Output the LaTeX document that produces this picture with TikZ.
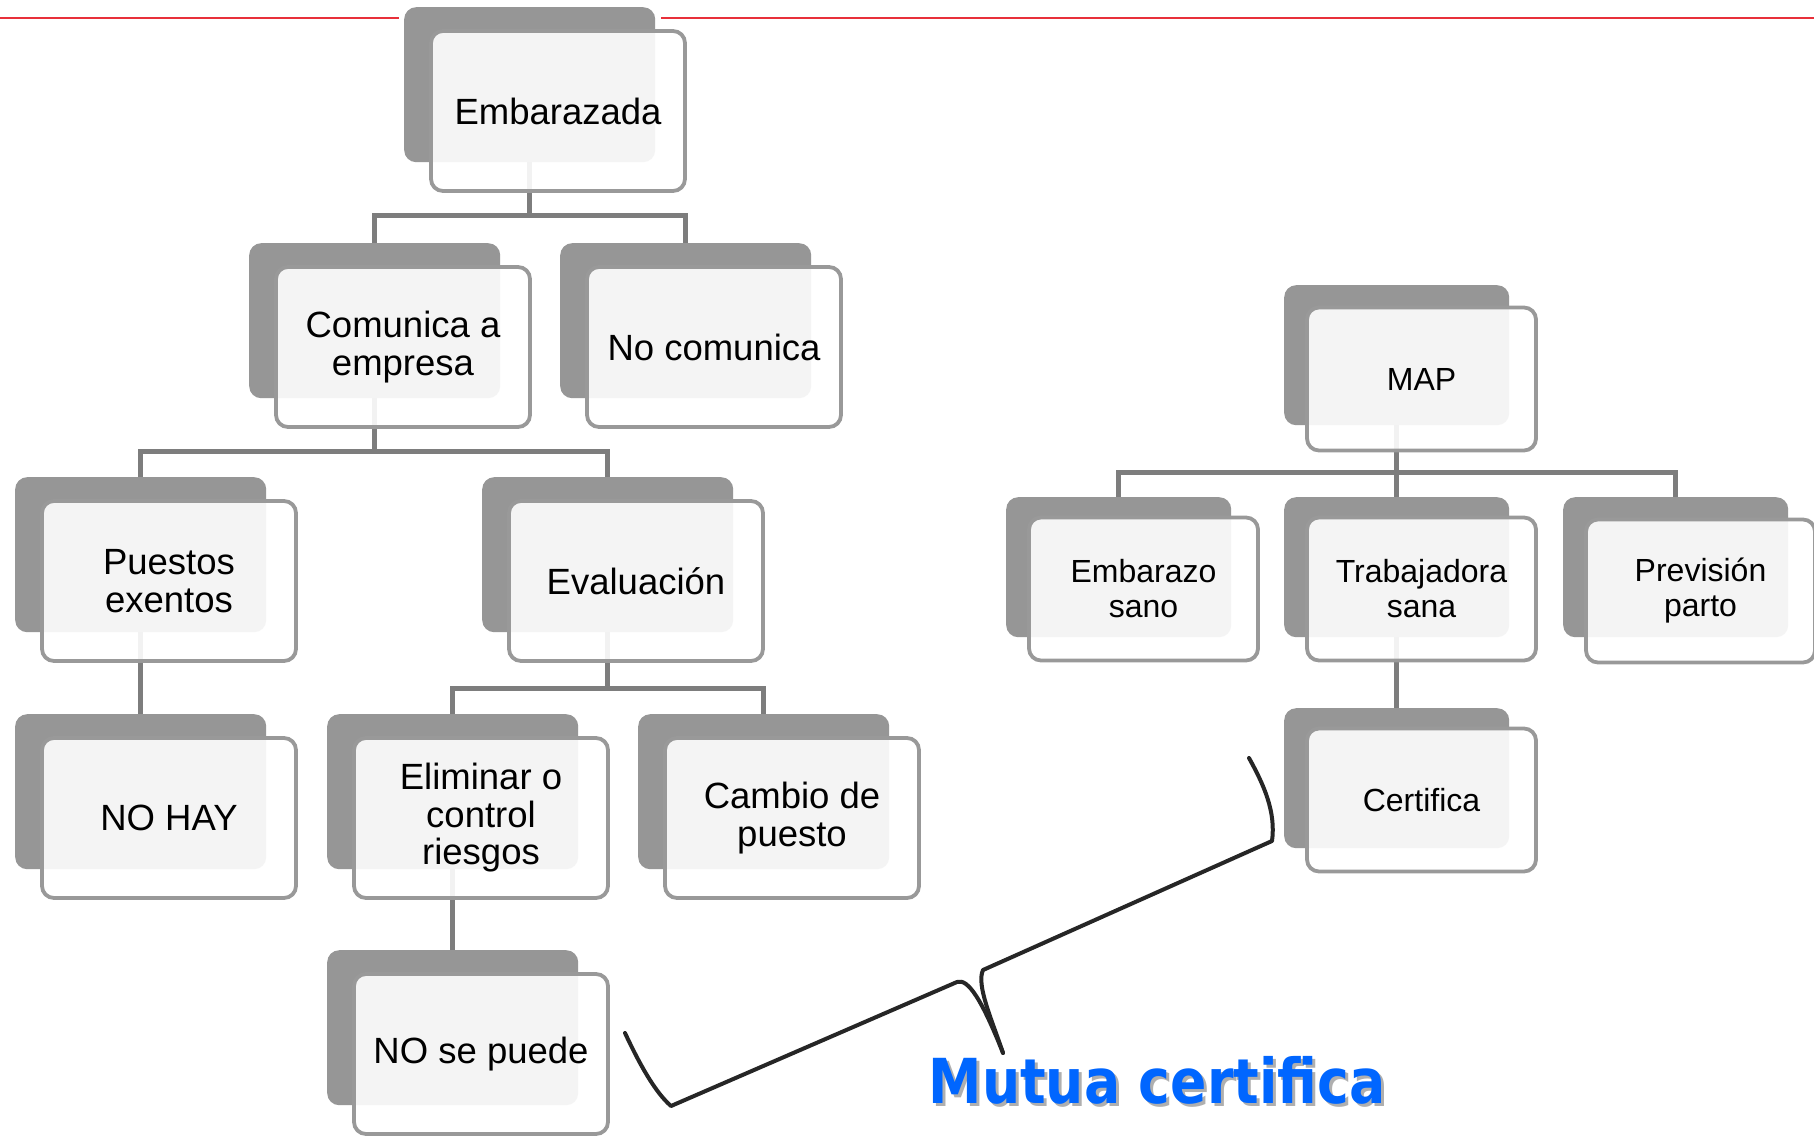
\documentclass[tikz,border=0pt]{standalone}
\usepackage{graphicx}
\usepackage{fontspec}
\setmainfont{Liberation Sans}
\newfontfamily\mutuafont{DejaVu Sans}
\definecolor{backgray}{RGB}{150,150,150}
\definecolor{edgegray}{RGB}{153,153,153}
\definecolor{conngray}{RGB}{125,125,125}
\definecolor{redline}{RGB}{232,48,58}
\definecolor{mutuablue}{RGB}{0,102,255}
\definecolor{shadowgray}{RGB}{175,175,175}
\begin{document}
\begin{tikzpicture}[x=1pt,y=-1pt,
  backL/.style={rectangle,rounded corners=12pt,fill=backgray,minimum width=251pt,minimum height=155pt,inner sep=0pt,anchor=north west},
  backR/.style={rectangle,rounded corners=12pt,fill=backgray,minimum width=225pt,minimum height=140pt,inner sep=0pt,anchor=north west},
  frontbox/.style={rectangle,rounded corners=12pt,draw=edgegray,line width=3.8pt,fill=white,fill opacity=0.9,draw opacity=1,text opacity=1,inner sep=0pt,align=center,text=black},
  frontL/.style={frontbox,minimum width=254pt,minimum height=160pt,font={\fontsize{36.5}{37.5}\selectfont}},
  frontR/.style={frontbox,minimum width=229pt,minimum height=143pt,font={\fontsize{32}{35}\selectfont}},
  conn/.style={draw=conngray,line width=4.5pt},
  bracestroke/.style={draw=black!85,line width=4pt,line cap=round,line join=round},
  redrule/.style={draw=redline,line width=2.5pt}]
\useasboundingbox (0,0) rectangle (1814,1139);
\fill[white] (0,0) rectangle (1814,1139);

% red rule at top
\coordinate (rl0) at (0,18);
\coordinate (rl1) at (399,18);
\coordinate (rr0) at (661,18);
\coordinate (rr1) at (1814,18);
\draw[redrule] (rl0) -- (rl1);
\draw[redrule] (rr0) -- (rr1);

% back boxes
\node[backL] (embB)    at (404,7)   {};
\node[backL] (comB)    at (249,243) {};
\node[backL] (nocomB)  at (560,243) {};
\node[backL] (puesB)   at (15,477)  {};
\node[backL] (evalB)   at (482,477) {};
\node[backL] (nohayB)  at (15,714)  {};
\node[backL] (elimB)   at (327,714) {};
\node[backL] (cambB)   at (638,714) {};
\node[backL] (noseB)   at (327,950) {};
\node[backR] (mapB)    at (1284,285) {};
\node[backR] (embzB)   at (1006,497) {};
\node[backR] (trabB)   at (1284,497) {};
\node[backR] (prevB)   at (1563,497) {};
\node[backR] (certB)   at (1284,708) {};

% connectors
\draw[conn] (embB.south) -- ++(0,53) -| (comB.north);
\draw[conn] (embB.south) -- ++(0,53) -| (nocomB.north);
\draw[conn] (comB.south) -- ++(0,53) -| (puesB.north);
\draw[conn] (comB.south) -- ++(0,53) -| (evalB.north);
\draw[conn] (puesB.south) -- (nohayB.north);
\draw[conn] (evalB.south) -- ++(0,56) -| (elimB.north);
\draw[conn] (evalB.south) -- ++(0,56) -| (cambB.north);
\draw[conn] (elimB.south) -- (noseB.north);
\draw[conn] (mapB.south) -- ++(0,47) -| (embzB.north);
\draw[conn] (mapB.south) -- ++(0,47) -| (trabB.north);
\draw[conn] (mapB.south) -- ++(0,47) -| (prevB.north);
\draw[conn] (trabB.south) -- (certB.north);

% front boxes
\node[frontL] (emb)   at (558,111)  {Embarazada};
\node[frontL] (com)   at (403,347)  {Comunica a\\empresa};
\node[frontL] (nocom) at (714,347)  {No comunica};
\node[frontL] (pues)  at (169,581)  {Puestos\\exentos};
\node[frontL] (eval)  at (636,581)  {Evaluación};
\node[frontL] (nohay) at (169,818)  {NO HAY};
\node[frontL] (elim)  at (481,818)  {Eliminar o\\control\\riesgos};
\node[frontL] (camb)  at (792,818)  {Cambio de\\puesto};
\node[frontL] (nose)  at (481,1054) {NO se puede};
\node[frontR] (map)   at (1421.5,379) {MAP};
\node[frontR] (embz)  at (1143.5,589) {Embarazo\\sano};
\node[frontR] (trab)  at (1421.5,589) {Trabajadora\\sana};
\node[frontR] (prev)  at (1700.5,591) {Previsión\\parto};
\node[frontR] (cert)  at (1421.5,800) {Certifica};

% hand-drawn brace
\coordinate (bl) at (625,1033);
\coordinate (bc) at (671,1106);
\coordinate (bm) at (957,982);
\coordinate (btip) at (1003,1053);
\coordinate (bn) at (983,970);
\coordinate (bk) at (1272,841);
\coordinate (br) at (1249,758);
\draw[bracestroke] (bl) .. controls (640,1065) and (655,1092) .. (bc) -- (bm)
  .. controls (968,978) and (982,1000) .. (btip);
\draw[bracestroke] (btip) .. controls (992,1020) and (976,985) .. (bn) -- (bk)
  .. controls (1276,812) and (1264,785) .. (br);

% label
\node[font={\mutuafont\bfseries\fontsize{62}{62}\selectfont}, text=shadowgray, anchor=base, inner sep=0pt] (mutuash) at (1160,1106) {\scalebox{0.865}[1]{Mutua certifica}};
\node[font={\mutuafont\bfseries\fontsize{62}{62}\selectfont}, text=mutuablue, anchor=base, inner sep=0pt] (mutua) at (1157,1103) {\scalebox{0.865}[1]{Mutua certifica}};
\end{tikzpicture}
\end{document}
